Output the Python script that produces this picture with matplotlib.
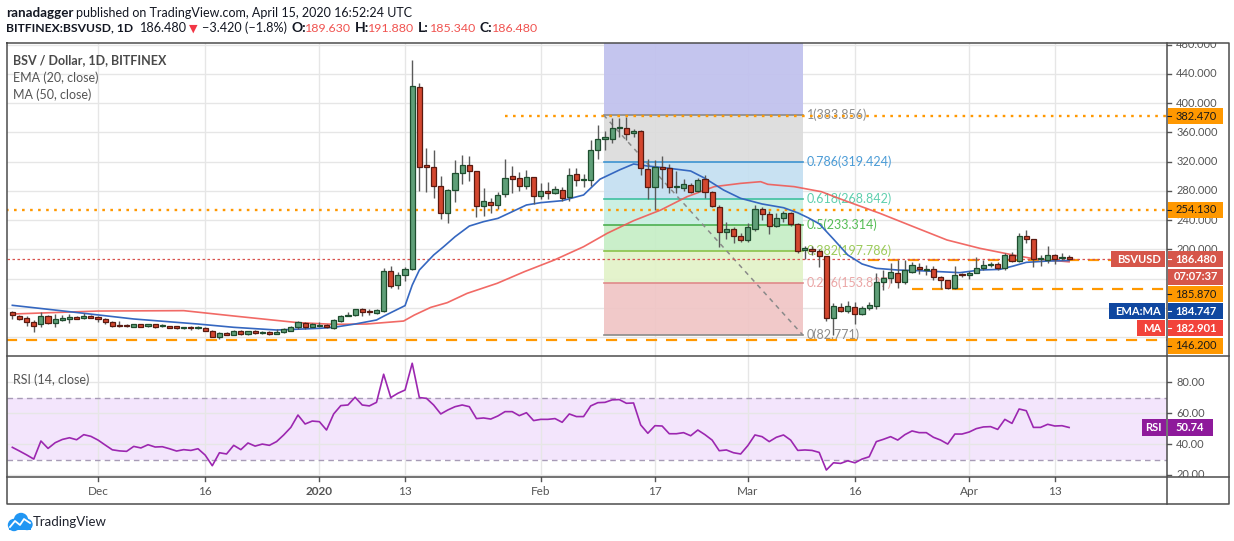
import numpy as np
import pandas as pd
import matplotlib
matplotlib.use("Agg")
import matplotlib.pyplot as plt
from matplotlib.patches import Rectangle, Circle
from matplotlib.lines import Line2D
from matplotlib.transforms import IdentityTransform, blended_transform_factory

plt.rcParams['font.family'] = ['Lato', 'DejaVu Sans']

W, H = 1234, 541

# ---------------------------------------------------------------- data
start_date = "2019-11-19"
opens = [114.7, 108.3, 105.6, 100.1, 97.4, 108.3, 98.7, 103.3, 105.1, 107.4,
         105.6, 108.8, 107.4, 104.2, 100.6, 95.1, 95.1, 94.2, 97.4, 94.6,
         97.4, 95.1, 95.1, 94.6, 91.9, 93.7, 92.4, 91.9, 88.7, 80.5,
         85.5, 83.2, 88.2, 83.7, 88.2, 85.1, 86.9, 84.6, 86.4, 88.7,
         93.3, 99.2, 94.2, 95.6, 96.5, 91.9, 102.4, 108.3, 109.7, 117.9,
         115.2, 112.4, 115.6, 169.9, 150.7, 164.9, 172.6, 421.7, 314.9, 312.2,
         286.2, 249.3, 281.2, 304.0, 314.9, 306.8, 258.8, 264.3, 260.2, 275.3,
         299.9, 297.6, 286.2, 298.5, 272.5, 279.4, 277.6, 280.7, 271.2, 302.6,
         294.4, 294.4, 335.9, 350.5, 351.1, 366.0, 365.6, 358.8, 362.0, 309.5,
         284.9, 312.7, 310.9, 284.9, 284.4, 287.6, 280.3, 295.8, 278.0, 258.4,
         223.4, 227.4, 218.3, 212.3, 227.8, 254.7, 248.4, 232.4, 242.4, 249.7,
         234.2, 199.1, 200.5, 198.2, 190.9, 105.6, 121.5, 115.6, 121.5, 111.1,
         119.6, 122.5, 155.8, 160.8, 167.6, 155.8, 169.4, 176.3, 172.2, 172.6,
         162.6, 158.0, 146.6, 166.2, 165.3, 168.1, 174.9, 178.6, 179.5, 174.0,
         191.8, 184.5, 217.8, 214.1, 186.8, 185.4, 191.8, 187.7, 189.63]
highs = [116.1, 109.7, 108.8, 103.3, 114.3, 109.7, 111.5, 109.7, 111.5, 108.8,
         113.3, 110.2, 109.2, 106.0, 102.4, 102.4, 97.8, 97.8, 97.8, 98.2,
         97.8, 97.8, 95.6, 95.1, 94.2, 94.6, 94.6, 93.7, 89.6, 86.9,
         86.9, 89.6, 89.6, 88.7, 89.6, 88.7, 88.3, 90.5, 92.4, 95.6,
         102.4, 100.6, 99.7, 100.6, 97.8, 104.2, 109.7, 114.3, 118.8, 119.7,
         118.8, 118.8, 174.5, 177.2, 169.0, 176.3, 459.1, 427.2, 338.2, 335.9,
         300.4, 282.0, 322.3, 328.6, 327.7, 307.5, 283.9, 269.8, 278.9, 323.6,
         313.6, 305.8, 308.6, 299.5, 290.3, 292.1, 286.7, 285.8, 311.3, 311.3,
         302.6, 349.6, 370.1, 361.5, 379.3, 380.2, 381.6, 364.2, 363.3, 323.2,
         322.3, 327.7, 316.8, 307.7, 295.8, 290.3, 297.2, 301.7, 280.3, 260.7,
         237.9, 231.0, 221.9, 235.6, 260.7, 258.4, 252.9, 249.3, 252.9, 251.5,
         235.6, 205.0, 205.0, 200.0, 191.5, 127.0, 126.1, 129.7, 128.4, 122.5,
         128.4, 167.2, 171.7, 180.8, 185.4, 185.4, 183.1, 180.8, 178.6, 177.2,
         163.0, 158.5, 177.2, 168.1, 169.9, 189.1, 185.4, 183.1, 183.1, 194.5,
         196.8, 222.8, 226.5, 214.5, 192.3, 205.0, 193.6, 195.4, 191.88]
lows = [105.1, 103.3, 95.1, 87.3, 93.3, 98.2, 93.3, 101.9, 98.7, 104.2,
        105.1, 105.6, 100.6, 97.8, 94.2, 93.3, 93.3, 93.3, 93.7, 93.7,
        92.8, 93.3, 91.9, 90.5, 91.4, 90.1, 90.5, 87.8, 79.6, 76.9,
        82.3, 82.8, 83.2, 83.2, 84.2, 84.2, 83.2, 84.2, 85.1, 87.8,
        91.4, 90.5, 93.3, 93.3, 91.9, 90.5, 101.0, 108.3, 108.8, 109.2,
        109.7, 111.5, 114.3, 147.6, 145.7, 157.1, 171.7, 280.3, 278.9, 269.8,
        241.0, 235.6, 264.3, 288.9, 294.0, 244.7, 245.6, 250.2, 254.7, 272.1,
        277.6, 280.3, 283.0, 262.0, 269.3, 269.3, 275.7, 265.7, 266.6, 287.1,
        285.8, 287.1, 324.1, 335.9, 345.1, 354.2, 349.6, 354.2, 301.7, 269.3,
        253.8, 284.4, 276.6, 276.6, 280.3, 277.6, 278.9, 269.8, 258.4, 203.6,
        214.1, 208.2, 210.5, 210.5, 225.6, 240.1, 220.5, 231.0, 237.9, 232.4,
        194.5, 186.8, 192.3, 175.4, 102.4, 82.8, 114.7, 113.3, 97.8, 110.1,
        117.0, 117.9, 144.3, 153.5, 146.6, 152.6, 167.2, 166.3, 164.9, 158.0,
        145.7, 145.3, 145.3, 162.6, 158.9, 167.2, 171.7, 176.3, 171.7, 171.7,
        183.1, 183.1, 208.2, 176.3, 177.2, 181.7, 179.9, 185.4, 185.34]
closes = [109.7, 105.1, 100.1, 95.6, 108.3, 98.7, 104.7, 106.0, 107.4, 105.1,
          108.8, 106.5, 104.2, 100.1, 95.1, 94.6, 94.6, 97.4, 94.2, 97.4,
          94.2, 96.0, 92.8, 91.9, 93.7, 92.4, 93.7, 88.7, 80.5, 85.1,
          83.2, 88.2, 84.6, 88.2, 85.1, 86.9, 84.6, 86.9, 90.5, 93.3,
          100.6, 94.2, 97.4, 96.5, 93.3, 103.3, 108.3, 110.2, 117.9, 113.8,
          114.3, 117.0, 169.9, 150.3, 164.4, 172.6, 423.5, 313.1, 313.1, 286.2,
          249.3, 280.7, 304.0, 314.9, 306.8, 258.8, 265.7, 260.2, 273.9, 297.2,
          296.7, 286.2, 298.5, 273.0, 279.4, 277.6, 282.1, 269.8, 301.3, 294.4,
          296.2, 335.9, 350.5, 353.3, 365.8, 367.4, 358.3, 362.4, 310.9, 284.9,
          312.7, 309.5, 285.8, 287.1, 289.4, 278.9, 294.9, 278.9, 259.8, 224.2,
          227.4, 218.3, 212.3, 230.1, 254.7, 248.4, 231.9, 242.4, 249.7, 234.2,
          198.2, 201.4, 198.2, 190.9, 105.6, 122.5, 116.1, 122.5, 111.1, 120.2,
          123.4, 155.8, 160.3, 168.5, 155.8, 171.7, 178.1, 172.6, 173.1, 162.6,
          158.0, 146.6, 164.4, 164.4, 167.2, 174.9, 178.1, 179.9, 174.0, 191.8,
          184.5, 217.8, 214.1, 186.3, 188.6, 192.2, 187.2, 189.9, 186.48]
rsi_vals = [37.9, 35.5, 33.0, 30.3, 42.0, 37.2, 40.9, 43.0, 44.1, 42.8,
            46.1, 45.0, 42.6, 39.4, 36.3, 35.6, 35.3, 38.5, 37.5, 39.6,
            38.1, 38.3, 37.0, 35.5, 36.4, 35.9, 37.0, 32.9, 26.0, 34.4,
            33.6, 39.2, 36.4, 40.7, 38.7, 40.0, 39.2, 41.6, 45.9, 50.8,
            58.8, 53.0, 54.9, 54.5, 49.1, 59.5, 64.9, 65.3, 70.3, 65.3,
            64.7, 67.0, 85.2, 70.1, 72.9, 75.0, 92.3, 70.1, 69.6, 65.3,
            59.5, 62.1, 64.2, 65.3, 64.2, 56.5, 56.9, 56.2, 58.2, 61.0,
            61.0, 58.4, 60.3, 55.2, 56.0, 56.0, 56.5, 54.1, 59.5, 57.8,
            57.8, 64.7, 66.8, 67.0, 68.6, 68.8, 66.4, 66.6, 52.4, 47.0,
            51.9, 51.7, 46.7, 46.7, 47.4, 45.4, 49.1, 46.1, 42.6, 35.7,
            36.2, 34.4, 33.6, 39.0, 45.9, 44.8, 41.6, 44.4, 45.9, 42.6,
            35.9, 36.2, 35.9, 34.6, 23.2, 27.9, 27.5, 29.2, 27.9, 30.3,
            31.8, 41.6, 43.1, 44.8, 42.6, 46.1, 48.5, 47.4, 47.4, 44.4,
            42.6, 40.0, 46.5, 46.5, 47.8, 50.0, 51.1, 51.3, 49.5, 56.0,
            53.4, 62.7, 61.6, 50.8, 50.8, 52.8, 51.7, 51.9, 50.74]

# indicator lines (day offset from 2020-01-01, value)
ema_days = [-43, -35, -26, -17, -12, -6, 0, 2, 5, 8, 9, 12, 13, 14, 16, 17.4, 19, 21, 23, 25,
            27, 29, 31, 34, 37, 39.3, 42.1, 44, 46, 49, 52, 54, 56.6, 59, 62, 65, 67, 68.5,
            70, 72, 74, 76, 78, 81, 84, 87, 89.7, 92.5, 95.3, 97.2, 99, 102, 105]
ema_vals = [123.4, 114.7, 104.7, 97.8, 93.3, 89.6, 91.9, 93.3, 97.8, 103.3, 108.5, 123.0,
            151.0, 171.7, 192.2, 203.6, 217.3, 231.9, 237.9, 242.4, 251.5, 260.7, 263.9,
            266.6, 274.4, 296.0, 309.0, 316.8, 314.0, 310.9, 307.2, 297.2, 281.2, 269.8,
            262.1, 257.0, 250.0, 243.0, 235.0, 214.0, 192.3, 180.0, 174.0, 171.7, 170.8,
            169.4, 168.1, 171.7, 172.6, 177.2, 182.2, 184.0, 184.747]
ma_days = [-43, -31, -19, -12, -3, 2, 6.6, 11.8, 13.3, 15.6, 17.9, 20.7, 24.9, 28.7, 32.9,
           37, 40.3, 44, 47.8, 51.5, 55.3, 59, 61.8, 62.8, 66.5, 70.3, 73.5, 78.5, 83.2,
           87.9, 92.5, 97.2, 100, 105]
ma_vals = [111.5, 115.6, 116.1, 108.8, 99.7, 97.4, 97.8, 101.9, 110.1, 120.6, 127.0, 139.8,
           153.5, 169.4, 185.4, 203.6, 221.9, 239.2, 253.8, 272.1, 285.8, 290.3, 292.6,
           289.0, 285.8, 278.9, 267.0, 249.3, 231.0, 212.8, 201.4, 192.2, 187.2, 182.901]

fib_start_day, fib_end_day = 39.8, 67.7
fib_names = ["1", "0.786", "0.618", "0.5", "0.382", "0.236", "0"]
fib_prices = [383.856, 319.424, 268.842, 233.314, 197.786, 153.827, 82.771]

dotted_levels = [382.47, 254.13]
dotted_from = [26.0, None]
dashed_levels = [185.87, 146.2, 76.0]
dashed_from = [76.8, 83.0, None]
last_price = 186.48
ema_last, ma_last = 184.747, 182.901
countdown = "07:07:37"

tick_dates = ["2019-12-01", "2019-12-16", "2020-01-01", "2020-01-13", "2020-02-01",
              "2020-02-17", "2020-03-01", "2020-03-16", "2020-04-01", "2020-04-13"]
tick_labels = ["Dec", "16", "2020", "13", "Feb", "17", "Mar", "16", "Apr", "13"]
price_ticks = [80, 120, 160, 200, 240, 280, 320, 360, 400, 440, 480]
rsi_ticks = [20, 40, 60, 80]

# ---------------------------------------------------------------- helpers
origin = pd.Timestamp("2020-01-01")
dates = pd.date_range(start_date, periods=len(opens), freq="D")
days = np.array((dates - origin).days, dtype=float)
tick_days = [(pd.Timestamp(d) - origin).days for d in tick_dates]

fig = plt.figure(figsize=(W / 100, H / 100), dpi=100)
fig.patch.set_facecolor("white")
IT = IdentityTransform()
rend = fig.canvas.get_renderer()


def add_ax(x0, y0, x1, y1):
    a = fig.add_axes([x0 / W, 1 - y1 / H, (x1 - x0) / W, (y1 - y0) / H])
    a.set_axis_off()
    a.patch.set_alpha(0)
    return a


def ptext(x, y, s, **kw):
    return fig.text(x, H - y, s, transform=IT, **kw)


def prect(x0, y0, x1, y1, fc, z=5):
    fig.add_artist(Rectangle((x0, H - y1), x1 - x0, y1 - y0, transform=IT,
                             facecolor=fc, edgecolor="none", zorder=z))


def pline(xs, ys, **kw):
    fig.add_artist(Line2D(xs, [H - y for y in ys], transform=IT, **kw))


def fit(x0, x1, y, s, **kw):
    t = ptext(x0, y, s, va="center", ha="left", fontsize=10, **kw)
    w = t.get_window_extent(rend).width
    t.set_fontsize(10 * (x1 - x0) / w)
    return t


L, R, PR = 6.5, 1167, 1229
TOP, SEP, XSEP, BOT = 43, 356, 477, 504
XMIN, XMAX = -43.82, 118.71

ax = add_ax(L, TOP, R, SEP)
axr = add_ax(L, SEP, R, XSEP)
axx = add_ax(L, XSEP, R, BOT)
axp = add_ax(R, TOP, PR, SEP)
axrp = add_ax(R, SEP, PR, XSEP)
for a in (ax, axr, axx):
    a.set_xlim(XMIN, XMAX)
ax.set_ylim(54.04, 482.39)
axp.set_ylim(54.04, 482.39)
axp.set_xlim(0, 1)
axr.set_ylim(18.7, 97.0)
axrp.set_ylim(18.7, 97.0)
axrp.set_xlim(0, 1)
axx.set_ylim(0, 1)

grid_c = "#e6e6e6"
for p in price_ticks:
    ax.axhline(p, color=grid_c, lw=1, zorder=0)
for v in rsi_ticks:
    axr.axhline(v, color=grid_c, lw=1, zorder=0.5)
for d in tick_days:
    ax.axvline(d, color=grid_c, lw=1, zorder=0)
    axr.axvline(d, color=grid_c, lw=1, zorder=0.5)

# ---------------------------------------------------------------- fib
fill_cols = ["#dcdcdc", "#c4dff1", "#c7eee0", "#c6eec6", "#e2f2c8", "#f0c5c5"]
line_cols = ["#8a8a8a", "#3d93d0", "#3fc1a0", "#4caf50", "#8bc34a", "#e08a8a", "#8a8a8a"]
lab_cols = ["#8c8c8c", "#4a9bd6", "#5fcfae", "#55bd55", "#9ccb5a", "#eba6a6", "#8c8c8c"]
fx = [fib_start_day, fib_end_day]
ax.fill_between(fx, fib_prices[0], 482.39, color="#c1c2ee", alpha=0.95, lw=0, zorder=1)
for i in range(len(fib_prices) - 1):
    ax.fill_between(fx, fib_prices[i + 1], fib_prices[i], color=fill_cols[i],
                    alpha=0.92, lw=0, zorder=1)
for i, pr in enumerate(fib_prices):
    ax.plot(fx, [pr, pr], color=line_cols[i], lw=1.2, zorder=2)
    ax.text(fib_end_day + 0.6, pr, f"{fib_names[i]}({pr:.3f})",
            color=lab_cols[i], fontsize=9, va="center", ha="left", zorder=2.5)
ax.plot(fx, [fib_prices[0], fib_prices[-1]], color="#8a8a8a", lw=1.1, ls=(0, (3, 3)),
        zorder=2)

# ---------------------------------------------------------------- horizontal levels
for lv, fr in zip(dotted_levels, dotted_from):
    x0 = XMIN if fr is None else fr
    ax.plot([x0, XMAX], [lv, lv], color="#ff9800", lw=1.7, ls=(0, (1.1, 2.3)), zorder=3)
for lv, fr in zip(dashed_levels, dashed_from):
    x0 = XMIN if fr is None else fr
    ax.plot([x0, XMAX], [lv, lv], color="#ff9800", lw=1.6, ls=(0, (5, 4)), zorder=3)
ax.axhline(last_price, color="#d9534f", lw=0.9, ls=(0, (2, 2)), zorder=3)

# ---------------------------------------------------------------- MAs
ax.plot(ma_days, ma_vals, color="#f05a55", lw=1.2, alpha=0.9, zorder=4)
ax.plot(ema_days, ema_vals, color="#3567c0", lw=1.2, zorder=4)

# ---------------------------------------------------------------- candles
o = np.array(opens); c = np.array(closes); hi = np.array(highs); lo = np.array(lows)
up = c >= o
ax.vlines(days, lo, hi, color="#5a5a5a", lw=1, zorder=5)
bottom = np.minimum(o, c)
height = np.maximum(np.abs(c - o), 1.2)
ax.bar(days[up], height[up], bottom=bottom[up], width=0.72, color="#5f9f78",
       edgecolor="#1e4d2e", lw=0.9, zorder=6)
ax.bar(days[~up], height[~up], bottom=bottom[~up], width=0.72, color="#d4472f",
       edgecolor="#5a1a10", lw=0.9, zorder=6)

# ---------------------------------------------------------------- RSI
axr.axhspan(30, 70, color="#f3e5fc", lw=0, zorder=0)
axr.axhline(70, color="#a79bb6", lw=1, ls=(0, (4, 3)), zorder=1)
axr.axhline(30, color="#a79bb6", lw=1, ls=(0, (4, 3)), zorder=1)
axr.plot(days, rsi_vals, color="#9c27b0", lw=1.2, zorder=3)

# ---------------------------------------------------------------- x labels
btf = blended_transform_factory(axx.transData, axx.transAxes)
for d, lab in zip(tick_days, tick_labels):
    axx.text(d, 0.45, lab, transform=btf, ha="center", va="center", color="#555555",
             fontsize=8.5, fontweight="bold" if lab == "2020" else "normal")
    axx.plot([d, d], [1.0, 0.86], transform=btf, color="#555555", lw=1)


# ---------------------------------------------------------------- tags (stacked)
def y_of(price):
    return H - ax.transData.transform((0, price))[1]


tags = [(382.47, "#ff9800", "#1a1a1a", f"{382.47:.3f}", None, None),
        (254.13, "#ff9800", "#1a1a1a", f"{254.13:.3f}", None, None),
        (last_price, "#d6564a", "white", f"{last_price:.3f}", "BSVUSD", "#d6564a"),
        (185.87, "#ff9800", "#1a1a1a", f"{185.87:.3f}", None, None),
        (ema_last, "#0f47a0", "white", f"{ema_last:.3f}", "EMA:MA", "#0f47a0"),
        (ma_last, "#f2433b", "white", f"{ma_last:.3f}", "MA", "#f2433b"),
        (146.2, "#ff9800", "#1a1a1a", f"{146.2:.3f}", None, None)]
tag_centers = []
prev = -1e9
for price, fc, tc, txt, side, sc in tags:
    yc = max(y_of(price), prev + 17.2)
    tag_centers.append(yc)
    prect(R + 0.5, yc - 8, 1223, yc + 8, fc)
    bold = tc == "white"
    ptext(1175.5, yc, txt, fontsize=8, color=tc, va="center", ha="left",
          fontweight="bold" if bold else "normal", zorder=6)
    pline([R, R + 4], [yc, yc], color=tc, lw=0.8, zorder=6)
    if side:
        t = ptext(1161, yc, side, fontsize=8, color="white", va="center", ha="right",
                  fontweight="bold", zorder=6)
        w = t.get_window_extent(rend).width
        prect(1161 - w - 6, yc - 8, 1165, yc + 8, sc)
    prev = yc
    if price == last_price:
        yc2 = yc + 17.6
        tag_centers.append(yc2)
        prect(R + 0.5, yc2 - 8, 1223, yc2 + 8, fc)
        ptext(1174, yc2, countdown, fontsize=8, color="white", va="center", ha="left",
              fontweight="bold", zorder=6)
        prev = yc2

# ---------------------------------------------------------------- price axis labels
for p in price_ticks:
    yp = y_of(p)
    if min(abs(yp - tc_) for tc_ in tag_centers) < 9.5:
        continue   # label hidden under a price tag
    axp.text(0.15, p, f"{p:.3f}", fontsize=8, color="#555555", va="center", ha="left",
             clip_on=True)
    axp.plot([0, 0.07], [p, p], color="#555555", lw=1, clip_on=True)
for v in rsi_ticks:
    axrp.text(0.15, v, f"{v:.2f}", fontsize=8, color="#555555", va="center", ha="left",
              clip_on=True)
    axrp.plot([0, 0.07], [v, v], color="#555555", lw=1, clip_on=True)

# RSI tags
ry = H - axr.transData.transform((0, rsi_vals[-1]))[1]
prect(R + 0.5, ry - 8.5, 1213, ry + 8.5, "#8e1a9b")
ptext(1175, ry, f"{rsi_vals[-1]:.2f}", fontsize=8, color="white", va="center", ha="left",
      fontweight="bold", zorder=6)
prect(1142, ry - 8.5, 1165.5, ry + 8.5, "#8e1a9b")
ptext(1153.7, ry, "RSI", fontsize=8, color="white", va="center", ha="center",
      fontweight="bold", zorder=6)

# ---------------------------------------------------------------- frame
fc_ = "#4d4d4d"
pline([L, PR, PR, L, L], [TOP, TOP, BOT, BOT, TOP], color=fc_, lw=1.1, zorder=10)
pline([R, R], [TOP, BOT], color=fc_, lw=1.1, zorder=10)
pline([L, PR], [SEP, SEP], color=fc_, lw=1.1, zorder=10)
pline([L, PR], [XSEP, XSEP], color=fc_, lw=1.1, zorder=10)

# ---------------------------------------------------------------- legends
ptext(13, 60, "BSV / Dollar, 1D, BITFINEX", fontsize=9, color="#4a4a4a",
      fontweight="bold", va="center", zorder=8)
ptext(13, 78, "EMA (20, close)", fontsize=9, color="#555555", va="center", zorder=8)
ptext(13, 95, "MA (50, close)", fontsize=9, color="#555555", va="center", zorder=8)
ptext(13, 380, "RSI (14, close)", fontsize=9, color="#555555", va="center", zorder=8)

# ---------------------------------------------------------------- header
dk = "#131722"
rd = "#f05350"
fit(6, 73, 13, "ranadagger", fontweight="bold", color=dk)
fit(76, 413, 13, "published on TradingView.com, April 15, 2020 16:52:24 UTC", color=dk)
fit(6, 133, 28, "BITFINEX:BSVUSD, 1D", fontweight="bold", color=dk)
fit(140, 187, 28, "186.480", color=dk)
ptext(189, 28, "\u25BC", fontsize=8, color="#f23645", va="center", ha="left")
fit(202, 287, 28, "\u22123.420 (\u22121.8%)", color=dk)
for lab, x0, val, v0 in [("O:", 292, "189.630", 305), ("H:", 355, "191.880", 368),
                         ("L:", 418, "185.340", 430), ("C:", 480, "186.480", 492)]:
    ptext(x0, 28, lab, fontsize=10, fontweight="bold", color=dk, va="center", ha="left")
    fit(v0, v0 + 46, 28, val, color=rd)

# TradingView logo
blue = "#2196f3"
for (cx, cy, r) in [(14, 525, 5.5), (21, 520, 6.5), (27, 524.5, 5)]:
    fig.add_artist(Circle((cx, H - cy), r, transform=IT, color=blue, zorder=8))
prect(8.5, 524, 31, 530, blue, z=8)
pline([10, 15, 20, 24, 30], [527, 521, 525, 519, 523], color="white", lw=1.3, zorder=9)
ptext(33, 522, "TradingView", fontsize=9.5, color="#1e222d", va="center", ha="left")

fig.savefig("out.png", dpi=100, facecolor="white")
